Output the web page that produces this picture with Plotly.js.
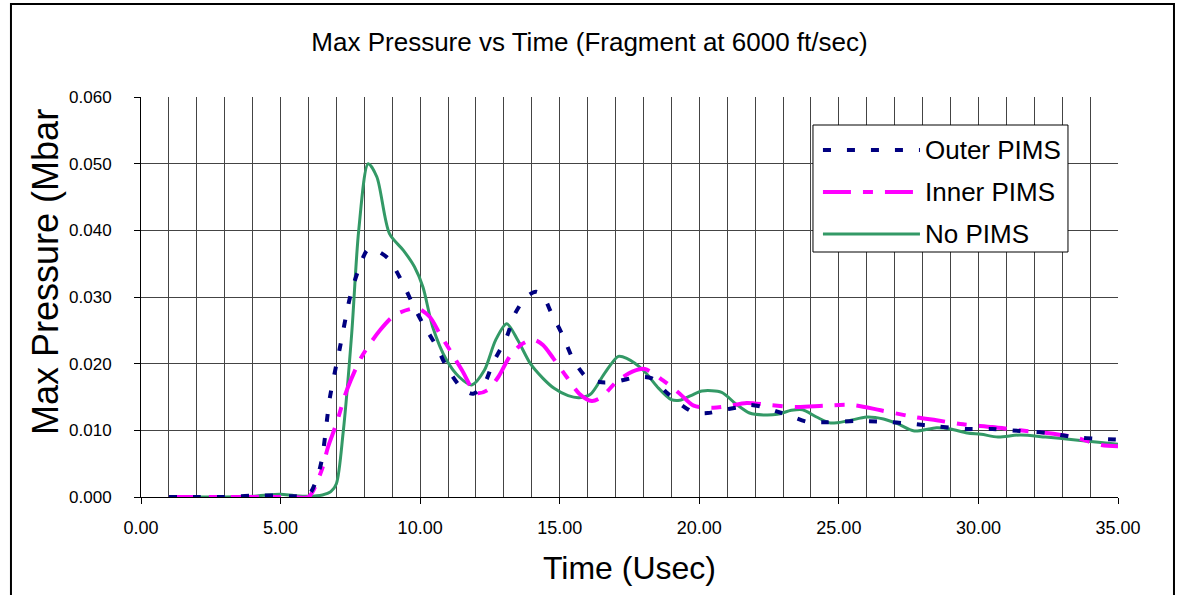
<!DOCTYPE html>
<html>
<head>
<meta charset="utf-8">
<script src="https://cdn.plot.ly/plotly-3.0.1.min.js"></script>
<style>html,body{margin:0;padding:0;background:#fff;}#chart{width:1179px;height:595px;}</style>
</head>
<body>
<div id="chart"></div>
<script>
// ---- Data ----
const seriesNames = ["Outer PIMS", "Inner PIMS", "No PIMS"];

const outerT = [1, 2, 3, 4, 5, 5.5, 6.0, 6.42, 6.77, 7.13, 7.49, 7.75, 8.1, 8.3, 8.85, 9.35, 9.75, 10.1, 10.6, 10.95, 11.5, 11.9, 12.3, 12.6, 13.1, 13.4, 13.8, 14.15, 14.4, 14.7, 15.1, 15.5, 16.0, 16.5, 17.0, 17.8, 18.3, 18.85, 19.3, 19.8, 20.3, 20.8, 21.3, 21.8, 22.3, 22.8, 23.3, 23.85, 24.5, 25.6, 26.6, 27.55, 28.5, 29.6, 30.5, 31.5, 32.5, 33.4, 34.4, 35];
const outerP = [0, 0, 0, 0.0002, 0.0002, 0.0001, 0.0003, 0.0045, 0.015, 0.0225, 0.030, 0.0336, 0.037, 0.0372, 0.0358, 0.0323, 0.0288, 0.026, 0.0225, 0.0195, 0.0163, 0.0155, 0.017, 0.020, 0.024, 0.0275, 0.030, 0.0308, 0.0302, 0.0276, 0.0243, 0.0205, 0.0178, 0.0172, 0.0173, 0.018, 0.0178, 0.0156, 0.014, 0.0127, 0.0126, 0.013, 0.0134, 0.0138, 0.0135, 0.0128, 0.0121, 0.0113, 0.0112, 0.0114, 0.0113, 0.011, 0.0106, 0.0102, 0.0102, 0.0099, 0.0096, 0.009, 0.0087, 0.0086];

const innerT = [1, 2, 3, 4, 5, 5.5, 6.0, 6.47, 6.7, 7.0, 7.37, 7.9, 8.56, 9.1, 9.9, 10.35, 10.7, 11.07, 11.5, 12.0, 12.4, 12.8, 13.2, 13.6, 14.05, 14.4, 14.77, 15.25, 15.7, 16.15, 16.5, 17.04, 17.6, 18.05, 18.7, 19.3, 19.8, 20.5, 21.0, 21.7, 22.5, 23.5, 24.5, 25.5, 26.5, 27.7, 28.5, 29.45, 30.5, 31.5, 32.45, 33.4, 34.4, 35];
const innerP = [0, 0, 0, 0, 0, 0, 0, 0.004, 0.0075, 0.011, 0.016, 0.021, 0.025, 0.0273, 0.0283, 0.027, 0.0245, 0.022, 0.019, 0.0156, 0.016, 0.018, 0.021, 0.0228, 0.0236, 0.0228, 0.0208, 0.018, 0.0155, 0.0144, 0.0150, 0.0173, 0.0188, 0.0192, 0.0175, 0.0155, 0.0137, 0.0134, 0.0136, 0.0141, 0.0138, 0.0135, 0.0137, 0.0138, 0.013, 0.012, 0.0115, 0.0109, 0.0105, 0.0100, 0.0096, 0.0090, 0.0078, 0.0076];

const noT = [1, 2, 3, 4, 4.5, 5, 5.5, 6, 6.5, 6.8, 7.0, 7.24, 7.55, 7.8, 8.14, 8.45, 8.9, 9.4, 9.8, 10.1, 10.45, 10.95, 11.4, 11.85, 12.3, 12.7, 13.1, 13.5, 13.95, 14.4, 14.8, 15.3, 15.7, 16.1, 16.6, 17.1, 17.4, 18.0, 18.5, 19.0, 19.3, 19.7, 20.1, 20.8, 21.3, 21.8, 22.3, 22.8, 23.3, 23.7, 24.2, 24.7, 25.3, 26.0, 26.6, 27.1, 27.7, 28.5, 29.0, 29.6, 30.1, 30.7, 31.5, 32.4, 33.4, 34.3, 35];
const noP = [0, 0, 0, 0.0001, 0.0003, 0.0004, 0.0002, 0.0001, 0.0003, 0.0008, 0.002, 0.0096, 0.0246, 0.040, 0.0500, 0.048, 0.0395, 0.037, 0.0345, 0.0315, 0.0255, 0.0205, 0.018, 0.0168, 0.019, 0.0235, 0.026, 0.0235, 0.020, 0.0178, 0.0163, 0.0152, 0.0149, 0.0154, 0.0185, 0.0211, 0.0208, 0.019, 0.0165, 0.0146, 0.0145, 0.0152, 0.0159, 0.0157, 0.014, 0.0126, 0.0123, 0.0124, 0.0130, 0.0131, 0.0120, 0.0111, 0.0114, 0.0120, 0.0117, 0.011, 0.0099, 0.0104, 0.0102, 0.0096, 0.0094, 0.009, 0.0093, 0.009, 0.0086, 0.0082, 0.0079];

const xTickVals = [0, 5, 10, 15, 20, 25, 30, 35];
const xTickText = ["0.00", "5.00", "10.00", "15.00", "20.00", "25.00", "30.00", "35.00"];
const yTickVals = [0, 0.01, 0.02, 0.03, 0.04, 0.05, 0.06];
const yTickText = ["0.000", "0.010", "0.020", "0.030", "0.040", "0.050", "0.060"];

const chartTitle = "Max Pressure vs Time (Fragment at 6000 ft/sec)";
const xTitle = "Time (Usec)";
const yTitle = "Max Pressure (Mbar";

// ---- Styles ----
const colors = ["#000080", "#FF00FF", "#339966"];
const dashes = ["8px,16px", "28px,12px,10px,12px", "solid"];
const widths = [4, 4, 3];
const FONT = "Arial, 'Liberation Sans', sans-serif";

const xs = [outerT, innerT, noT];
const ys = [outerP, innerP, noP];
const order = [2, 1, 0];
const traces = order.map(i => ({
  type: "scatter", mode: "lines", name: seriesNames[i],
  x: xs[i], y: ys[i],
  line: {color: colors[i], width: widths[i], dash: dashes[i], shape: "spline", smoothing: 0.8},
  showlegend: false, hoverinfo: "x+y+name"
}));

// manual legend (paper coordinates)
const legY = [0.8675, 0.7625, 0.6575];
const shapes = [
  {type: "rect", xref: "paper", yref: "paper", x0: -0.1331, x1: 1.0573, y0: -0.30, y1: 1.2325,
   line: {color: "#000", width: 2}, fillcolor: "rgba(0,0,0,0)", layer: "below"},
  {type: "rect", xref: "paper", yref: "paper", x0: 0.6878, x1: 0.9488, y0: 0.6125, y1: 0.93,
   line: {color: "#000", width: 1}, fillcolor: "#fff", layer: "above"}
];
const annotations = [];
seriesNames.forEach((n, i) => {
  shapes.push({type: "line", xref: "paper", yref: "paper", x0: 0.698, x1: 0.7973, y0: legY[i], y1: legY[i],
    line: {color: colors[i], width: widths[i], dash: dashes[i]}, layer: "above"});
  annotations.push({xref: "paper", yref: "paper", x: 0.8005, y: legY[i], xanchor: "left", yanchor: "middle",
    text: n, showarrow: false, font: {family: FONT, size: 26, color: "#000"}});
});
// y-axis title as rotated annotation for exact placement
annotations.push({xref: "paper", yref: "paper", x: -0.0983, y: 0.5625, xanchor: "center", yanchor: "middle",
  textangle: -90, text: yTitle, showarrow: false, font: {family: FONT, size: 36, color: "#000"}});

const layout = {
  width: 1179, height: 595,
  margin: {l: 141, r: 61, t: 97, b: 98},
  paper_bgcolor: "#fff", plot_bgcolor: "#fff",
  font: {family: FONT, color: "#000"},
  title: {text: chartTitle, font: {family: FONT, size: 26, color: "#000"},
          x: 0.5, xref: "container", xanchor: "center", y: 1 - 42/595, yref: "container", yanchor: "middle"},
  xaxis: {
    range: [0, 35], tickvals: xTickVals, ticktext: xTickText, ticks: "outside", ticklen: 6, tickcolor: "#000",
    showline: true, linecolor: "#000", linewidth: 1, zeroline: false,
    showgrid: true, gridcolor: "#444", gridwidth: 1,
    minor: {dtick: 1, showgrid: true, gridcolor: "#444", gridwidth: 1, ticks: ""},
    tickfont: {family: FONT, size: 18, color: "#000"}, ticklabelstandoff: 8,
    title: {text: xTitle, font: {family: FONT, size: 32, color: "#000"}, standoff: 20},
    automargin: false
  },
  yaxis: {
    range: [0, 0.06], tickvals: yTickVals, ticktext: yTickText, ticks: "outside", ticklen: 6, tickcolor: "#000",
    showline: true, linecolor: "#000", linewidth: 1, zeroline: false,
    showgrid: true, gridcolor: "#444", gridwidth: 1,
    tickfont: {family: FONT, size: 17, color: "#000"}, ticklabelstandoff: 19,
    automargin: false
  },
  shapes: shapes,
  annotations: annotations,
  showlegend: false
};

Plotly.newPlot("chart", traces, layout, {displayModeBar: false, staticPlot: true});
</script>
</body>
</html>
